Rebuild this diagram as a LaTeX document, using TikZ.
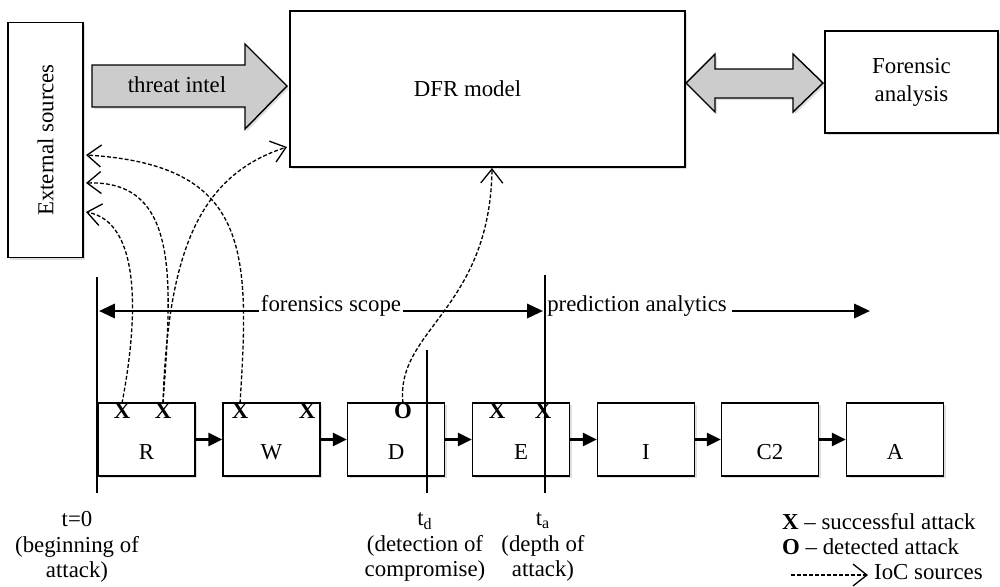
\documentclass[tikz,border=0pt]{standalone}
\usepackage{fontspec}
\setmainfont{Liberation Serif}
\usetikzlibrary{arrows.meta,shadows}

\begin{document}
\begin{tikzpicture}[x=0.02cm,y=-0.02cm,font=\fontsize{13}{16}\selectfont,
    box/.style={draw,fill=white,line width=0.8pt,
      drop shadow={opacity=0.25,shadow xshift=1.2pt,shadow yshift=-1.2pt}},
    stage/.style={box,minimum width=1.94cm,minimum height=1.46cm,
      text height=0.8cm,text depth=0pt},
    hit/.style={inner sep=0pt,font=\fontsize{13}{16}\selectfont\bfseries},
    flow/.style={-{Triangle[length=8pt,width=7.5pt]},line width=1.4pt},
    span/.style={-{Triangle[length=9pt,width=8pt]},line width=1.6pt},
    ioc/.style={-{Straight Barb[length=2.8mm,width=4.4mm]},
      dash pattern=on 2.2pt off 1.2pt,line width=0.75pt},
    block/.style={draw,fill=gray!40,line width=0.8pt,
      drop shadow={opacity=0.25,shadow xshift=1.2pt,shadow yshift=-1.2pt}},
    note/.style={align=center,font=\fontsize{13}{14.5}\selectfont}]
    \useasboundingbox (0,0) rectangle (1000,586);

    % Top row
    \node[box,rotate=90,minimum width=4.7cm,minimum height=1.5cm] (ext) at (45.5,140) {External sources};
    \node[box,minimum width=7.9cm,minimum height=3.12cm,
      label={[xshift=-0.4cm]center:DFR model}] (dfr) at (487.5,89) {};
    \node[box,minimum width=3.46cm,minimum height=2.04cm,align=center] (fa) at (911.5,82) {Forensic\\analysis};

    % Block arrows
    \draw[block] (92,65) -- (245,65) -- (245,44) -- (287,86) -- (245,129) -- (245,107) -- (92,107) -- cycle;
    \node (threat) at (177,85) {threat intel};
    \draw[block] (686,83) -- (715,54) -- (715,69) -- (793,69) -- (793,54) -- (823,83)
      -- (793,112) -- (793,98) -- (715,98) -- (715,112) -- cycle;

    % Attack stages
    \node[stage] (R)  at (146.5,439.5) {R};
    \node[stage] (W)  at (271.5,439.5) {W};
    \node[stage] (D)  at (396,439.5) {D};
    \node[stage] (E)  at (521,439.5) {E};
    \node[stage] (I)  at (646,439.5) {I};
    \node[stage] (C2) at (770,439.5) {C2};
    \node[stage] (A)  at (895,439.5) {A};

    \draw[flow] (R) -- (W);
    \draw[flow] (W) -- (D);
    \draw[flow] (D) -- (E);
    \draw[flow] (E) -- (I);
    \draw[flow] (I) -- (C2);
    \draw[flow] (C2) -- (A);

    % Attack marks
    \node[hit] (xr1) at (122,411) {X};
    \node[hit] (xr2) at (163,411) {X};
    \node[hit] (xw1) at (240,411) {X};
    \node[hit] (xw2) at (307,411) {X};
    \node[hit] (od)  at (403,411) {O};
    \node[hit] (xe1) at (497,411) {X};
    \node[hit] (xe2) at (543,411) {X};

    % Time markers
    \draw[line width=0.8pt] (97,277) -- (97,493);
    \draw[line width=0.8pt] (427,350) -- (427,493);
    \draw[line width=0.8pt] (545,275) -- (545,493);

    % Scope arrows
    \node[anchor=base,inner sep=1pt] (fs) at (331,311) {forensics scope};
    \node[anchor=base,inner sep=1pt] (pa) at (637,311) {prediction analytics};
    \coordinate (fsl) at (99,311);
    \coordinate (fsr) at (543,311);
    \coordinate (pae) at (870,311);
    \draw[span] (fs.base west) -- (fsl);
    \draw[span] (fs.base east) -- (fsr);
    \draw[span] ([xshift=2pt]pa.base east) -- (pae);

    % IoC sources
    \coordinate (in1) at (86,155);
    \coordinate (in2) at (86,183);
    \coordinate (in3) at (86,212);
    \coordinate (dfrin) at (287,147);
    \coordinate (dfrlow) at (492,168);
    \draw[ioc] (xr1.north) .. controls (138,320) and (142,222) .. (in3);
    \draw[ioc] (xr2.north) .. controls (172,280) and (180,180) .. (in2);
    \draw[ioc] (xw1.north) .. controls (250,250) and (250,165) .. (in1);
    \draw[ioc] (xr2.north) .. controls (168,250) and (200,175) .. (dfrin);
    \draw[ioc] (od.north) .. controls (395,330) and (490,310) .. (dfrlow);

    % Time labels
    \node[note] (t0) at (77,547) {t=0\\(beginning of\\attack)};
    \node[note] (td) at (425,547) {t\textsubscript{d}\\(detection of\\compromise)};
    \node[note] (ta) at (543,547) {t\textsubscript{a}\\(depth of\\attack)};

    % Legend
    \node[anchor=west] (lx) at (776,522) {\textbf{X} -- successful attack};
    \node[anchor=west] (lo) at (776,547) {\textbf{O} -- detected attack};
    \node[anchor=west] (lioc) at (868,572) {IoC sources};
    \coordinate (iocs) at (791,575);
    \draw[ioc] (iocs) -- (lioc.west |- iocs);
  \end{tikzpicture}
\end{document}
